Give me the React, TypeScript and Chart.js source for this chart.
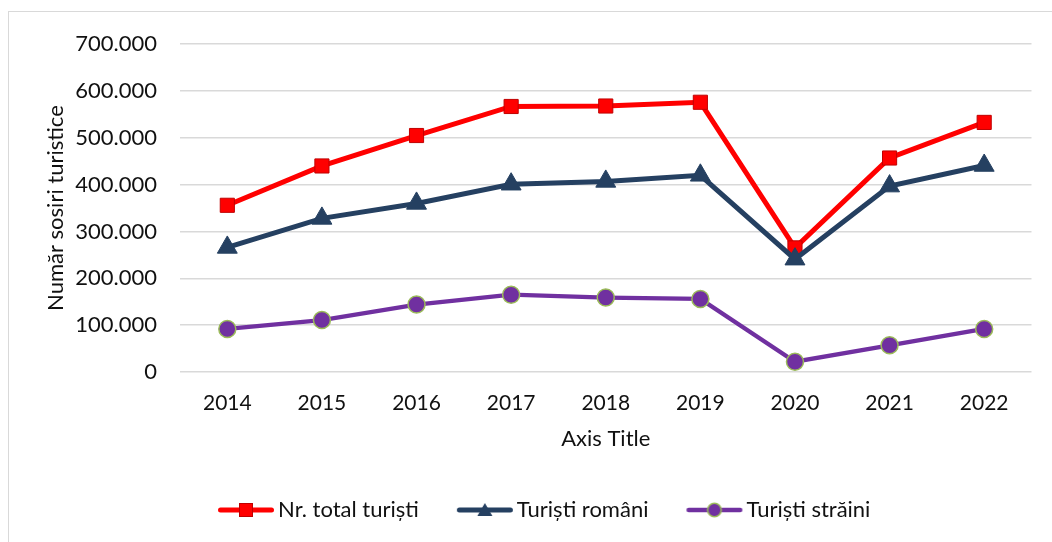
import React, { useEffect, useRef } from 'react';
import { Chart, registerables } from 'chart.js';

Chart.register(...registerables);

const categories = ['2014', '2015', '2016', '2017', '2018', '2019', '2020', '2021', '2022'];
const totalTourists = [356000, 440000, 505000, 567000, 568000, 576000, 265000, 457000, 533000];
const romanianTourists = [266000, 328000, 360000, 401000, 407000, 420000, 241000, 397000, 441000];
const foreignTourists = [92000, 111000, 144000, 165000, 159000, 156000, 22000, 57000, 92000];
const seriesLabels = ['Nr. total turiști', 'Turiști români', 'Turiști străini'];
const yAxisTitle = 'Număr sosiri turistice';
const xAxisTitle = 'Axis Title';

const FONT = 'Lato';
const TEXT = '#111111';
const RED = '#FF0000';
const RED_DARK = '#C00000';
const NAVY = '#254061';
const PURPLE = '#7030A0';
const GREEN = '#9BBB59';

function fmt(v: number): string {
  if (v === 0) return '0';
  return String(Math.round(v)).replace(/\B(?=(\d{3})+(?!\d))/g, '.');
}

function legendIcon(kind: 'rect' | 'triangle' | 'circle', line: string, fill: string, border: string, lw: number): HTMLCanvasElement {
  const c = document.createElement('canvas');
  c.width = 62;
  c.height = 22;
  const g = c.getContext('2d') as CanvasRenderingContext2D;
  const cy = 11;
  g.strokeStyle = line;
  g.lineWidth = lw;
  g.lineCap = 'round';
  g.beginPath();
  g.moveTo(2 + lw / 2, cy);
  g.lineTo(58 - lw / 2, cy);
  g.stroke();
  const cx = 30;
  g.fillStyle = fill;
  g.strokeStyle = border;
  g.lineWidth = 1;
  if (kind === 'rect') {
    g.fillRect(cx - 7, cy - 7, 14, 14);
    g.strokeRect(cx - 6.5, cy - 6.5, 13, 13);
  } else if (kind === 'triangle') {
    g.beginPath();
    g.moveTo(cx, cy - 7);
    g.lineTo(cx + 7.5, cy + 6);
    g.lineTo(cx - 7.5, cy + 6);
    g.closePath();
    g.fill();
  } else {
    g.beginPath();
    g.arc(cx, cy, 6.8, 0, Math.PI * 2);
    g.fill();
    g.lineWidth = 1.5;
    g.stroke();
  }
  return c;
}

export default function App() {
  const ref = useRef<HTMLCanvasElement | null>(null);

  useEffect(() => {
    if (!ref.current) return;
    const icons = [
      legendIcon('rect', RED, RED, RED_DARK, 5),
      legendIcon('triangle', NAVY, NAVY, NAVY, 5),
      legendIcon('circle', PURPLE, PURPLE, GREEN, 4.5),
    ];
    const font = { family: FONT, size: 22 };
    const tickFontX = { family: FONT, size: 21 };
    const chart = new Chart(ref.current, {
      type: 'line',
      data: {
        labels: categories,
        datasets: [
          {
            label: seriesLabels[0],
            data: totalTourists,
            borderColor: RED,
            borderWidth: 5,
            pointStyle: 'rect',
            pointRadius: 10,
            pointHoverRadius: 10,
            pointBackgroundColor: RED,
            pointBorderColor: RED_DARK,
            pointBorderWidth: 1,
            tension: 0,
            order: 1,
          },
          {
            label: seriesLabels[1],
            data: romanianTourists,
            borderColor: NAVY,
            borderWidth: 5,
            pointStyle: 'triangle',
            pointRadius: 11.5,
            pointHoverRadius: 11.5,
            pointBackgroundColor: NAVY,
            pointBorderColor: NAVY,
            pointBorderWidth: 1,
            tension: 0,
            order: 0,
          },
          {
            label: seriesLabels[2],
            data: foreignTourists,
            borderColor: PURPLE,
            borderWidth: 4.25,
            pointStyle: 'circle',
            pointRadius: 8.5,
            pointHoverRadius: 8.5,
            pointBackgroundColor: PURPLE,
            pointBorderColor: GREEN,
            pointBorderWidth: 1.5,
            tension: 0,
            order: 2,
          },
        ],
      },
      options: {
        animation: false,
        responsive: true,
        maintainAspectRatio: false,
        layout: { padding: { top: 33, right: 7, bottom: 3, left: 0 } },
        plugins: {
          tooltip: { enabled: false },
          legend: {
            position: 'bottom',
            align: 'start',
            fullSize: false,
            labels: {
              usePointStyle: true,
              pointStyleWidth: 40,
              padding: 47,
              color: TEXT,
              font,
              generateLabels: (ch: any) => {
                const items = (Chart.defaults.plugins.legend.labels as any).generateLabels(ch);
                items.sort((a: any, b: any) => a.datasetIndex - b.datasetIndex);
                return items.map((it: any) => ({ ...it, pointStyle: icons[it.datasetIndex], fontColor: TEXT }));
              },
            },
          },
        },
        scales: {
          x: {
            type: 'category',
            offset: true,
            grid: { display: false },
            border: { display: false },
            ticks: { color: TEXT, font: tickFontX, padding: 11, maxRotation: 0 },
            title: { display: true, text: xAxisTitle, color: TEXT, font, padding: { top: 0, bottom: 0 } },
            afterFit: (s: any) => {
              s.height = 80;
            },
          },
          y: {
            min: 0,
            max: 700000,
            grid: { color: '#D9D9D9', lineWidth: 1.5, drawTicks: false },
            border: { display: false },
            ticks: { stepSize: 100000, color: TEXT, font, padding: 23, callback: (v: any) => fmt(Number(v)) },
            title: { display: true, text: yAxisTitle, color: TEXT, font, padding: { top: 35, bottom: 0 } },
            afterFit: (s: any) => {
              s.width = 172;
            },
          },
        },
      },
    } as any);
    return () => chart.destroy();
  }, []);

  return (
    <div style={{ position: 'relative', width: 1036, height: 526 }}>
      <div
        style={{
          position: 'fixed',
          left: 8,
          top: 11,
          width: 1043,
          height: 531,
          borderTop: '1px solid #D9D9D9',
          borderLeft: '1px solid #D9D9D9',
          pointerEvents: 'none',
        }}
      />
      <canvas ref={ref} />
    </div>
  );
}
